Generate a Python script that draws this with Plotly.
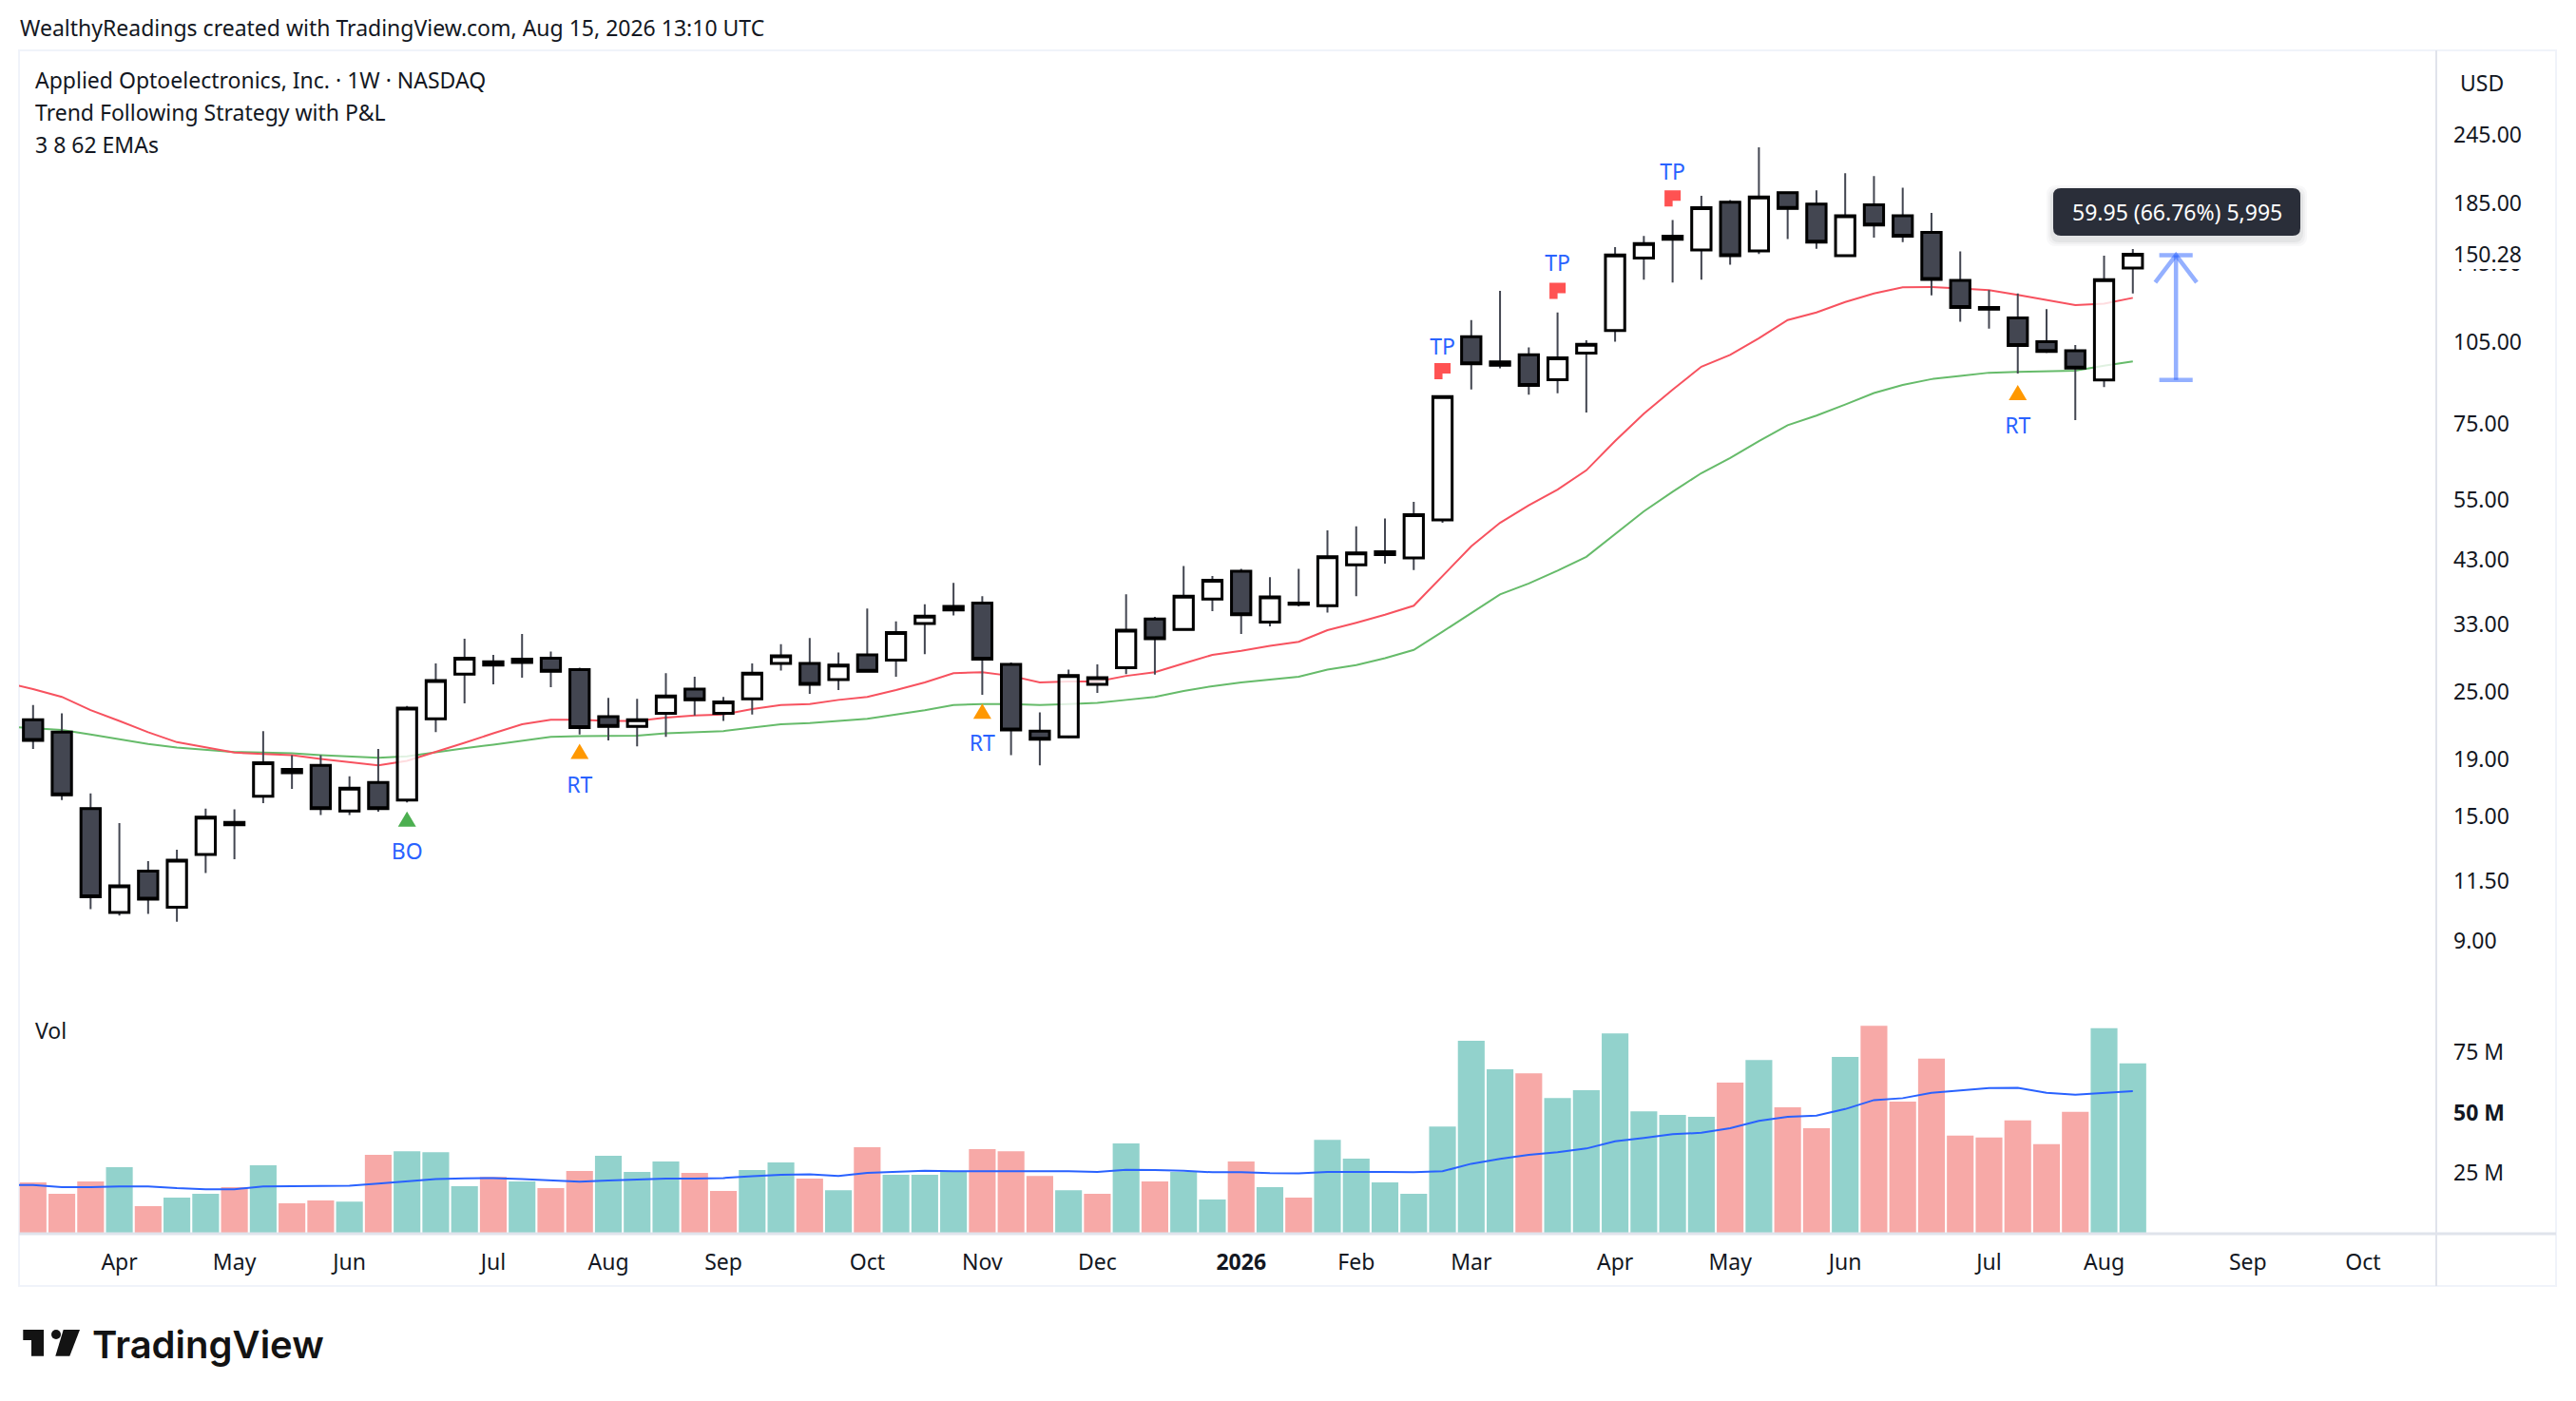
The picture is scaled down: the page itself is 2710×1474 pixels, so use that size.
import math
import plotly.graph_objects as go

W, H = 2710, 1474
FONT = "Noto Sans"
INK = "#131722"

# weekly bars, index 0 is the first bar on the chart
opens = [22.3, 21.2, 15.5, 10.13, 12.0, 10.35, 12.85, 14.65, 16.3, 18.2, 18.5, 15.35, 17.25, 16.05, 22.4, 26.9, 27.9, 28.6, 28.7, 27.4, 22.6, 21.7, 22.9, 25.3, 22.9, 24.3, 28.1, 28.1, 26.3, 29.1, 28.5, 33.1, 35.0, 36.0, 28.0, 21.3, 20.8, 25.8, 27.6, 33.7, 32.3, 36.6, 41.0, 33.3, 36.0, 35.6, 42.1, 43.9, 43.3, 50.6, 107.2, 95.4, 99.6, 89.9, 100.2, 110, 148, 161.8, 153, 186, 152.3, 193.5, 184.6, 149.4, 184, 176, 164.4, 135, 120.8, 115.8, 105, 101.2, 89.8, 142]
closes = [20.5, 16.4, 10.8, 11.3, 10.7, 12.55, 14.96, 14.5, 18.7, 17.95, 15.5, 16.85, 15.5, 23.4, 26.2, 28.7, 28.3, 28.2, 27.2, 21.6, 21.7, 22.3, 24.6, 24.2, 24.0, 27.0, 29.0, 25.8, 27.9, 27.2, 31.9, 34.1, 35.5, 28.6, 21.4, 20.6, 26.75, 26.5, 32.2, 31.1, 37.0, 39.5, 34.3, 36.9, 35.8, 43.5, 44.2, 44.4, 51.7, 83.9, 95.9, 96.7, 87.8, 98.3, 103.9, 149.8, 157, 159.8, 182, 149.4, 190, 181.3, 158, 176, 169.5, 161.8, 135.6, 120.8, 120, 103.4, 100.9, 94.3, 135.4, 150.28]
highs = [23.7, 22.9, 16.5, 14.6, 12.5, 13.1, 15.5, 15.45, 21.3, 19.3, 19.3, 17.7, 19.8, 23.6, 28.1, 31.1, 29.1, 31.7, 29.5, 27.6, 24.4, 24.3, 27.0, 26.6, 24.5, 28.1, 30.4, 31.2, 29.4, 35.2, 33.4, 35.8, 39.1, 37.0, 28.2, 23.0, 27.4, 28.0, 37.3, 34.0, 41.9, 40.2, 41.4, 40.0, 41.4, 48.5, 49.3, 50.9, 54.5, 84.3, 114.8, 129.4, 102.6, 118.4, 105.7, 154.7, 162, 173, 191, 187.7, 233, 194, 195.4, 209.4, 207, 197.4, 178, 152, 129.8, 128, 120, 103.6, 149.4, 153.5]
lows = [19.8, 16.05, 10.27, 10.0, 10.07, 9.75, 11.9, 12.6, 15.85, 16.8, 15.1, 15.1, 15.3, 15.9, 21.2, 23.85, 25.8, 26.5, 25.5, 21.0, 20.5, 20.0, 20.8, 22.7, 22.2, 22.8, 27.3, 24.8, 25.2, 27.1, 26.6, 29.2, 34.2, 24.7, 19.3, 18.5, 20.7, 24.9, 26.9, 26.85, 32.2, 34.8, 31.7, 32.7, 35.5, 34.6, 37.0, 42.3, 41.2, 50.0, 86.4, 94.2, 84.5, 85.0, 78.6, 105, 135.4, 133.8, 135.4, 144, 150.5, 160, 153.7, 149, 160.9, 158, 127, 114, 110.8, 92.2, 100.3, 76.2, 87.2, 128]

# EMAs start one bar before the first candle, the frame cuts them off
ema_fast = [26.0, 25.3, 24.5, 23.2, 22.2, 21.2, 20.35, 19.9, 19.5, 19.4, 19.3, 19.0, 18.75, 18.5, 18.85, 19.55, 20.3, 21.1, 21.9, 22.3, 22.3, 22.2, 22.2, 22.5, 22.7, 22.8, 23.3, 23.7, 23.8, 24.2, 24.5, 25.2, 26.0, 27.0, 27.1, 26.7, 26.0, 26.1, 26.1, 26.7, 27.1, 28.1, 29.1, 29.6, 30.2, 30.7, 32.2, 33.2, 34.3, 35.6, 40.2, 45.4, 50.0, 53.7, 57.3, 62.0, 69.9, 78.2, 86.3, 94.8, 99.5, 106.5, 114.8, 118.4, 123.6, 128, 131.3, 131.4, 130.6, 129.8, 127.2, 124.7, 122, 122.8, 125.7]
ema_slow = [21.7, 21.55, 21.4, 21.0, 20.6, 20.2, 19.9, 19.7, 19.55, 19.5, 19.45, 19.3, 19.2, 19.1, 19.2, 19.55, 19.85, 20.15, 20.5, 20.8, 20.85, 20.85, 20.9, 21.1, 21.2, 21.3, 21.6, 21.9, 22.0, 22.2, 22.4, 22.8, 23.2, 23.7, 23.8, 23.8, 23.7, 23.8, 23.9, 24.2, 24.5, 25.1, 25.6, 26.0, 26.3, 26.6, 27.4, 27.9, 28.7, 29.7, 32.0, 34.6, 37.3, 39.0, 41.1, 43.5, 47.8, 52.4, 56.8, 61.3, 65.2, 69.9, 74.6, 77.6, 81.2, 85.1, 88.0, 90.1, 91.3, 92.5, 92.8, 93.1, 93.3, 95.2, 96.9]

volumes = [21.2, 16.5, 21.6, 27.5, 11.4, 14.9, 16.5, 19.2, 28.3, 12.6, 13.7, 13.3, 32.6, 34.1, 33.7, 19.6, 23.5, 21.6, 18.8, 25.9, 32.2, 25.5, 29.8, 25.1, 17.7, 26.3, 29.4, 22.8, 18.0, 35.7, 24.3, 24.3, 25.5, 34.9, 34.1, 23.9, 18.0, 16.5, 37.3, 21.6, 25.5, 14.1, 29.8, 19.2, 14.9, 38.8, 31.0, 21.2, 16.5, 44.3, 79.7, 67.9, 66.3, 56.1, 59.3, 82.8, 50.6, 49.1, 48.3, 62.4, 71.8, 52.2, 43.6, 73.0, 85.9, 54.6, 72.3, 40.5, 39.8, 46.8, 37.0, 50.4, 84.9, 70.4]
vol_dirs = ["d", "d", "d", "u", "d", "u", "u", "d", "u", "d", "d", "u", "d", "u", "u", "u", "d", "u", "d", "d", "u", "u", "u", "d", "d", "u", "u", "d", "u", "d", "u", "u", "u", "d", "d", "d", "u", "d", "u", "d", "u", "u", "d", "u", "d", "u", "u", "u", "u", "u", "u", "u", "d", "u", "u", "u", "u", "u", "u", "d", "u", "d", "d", "u", "d", "d", "d", "d", "d", "d", "d", "d", "u", "u"]
vol_ma = [20.2, 20.1, 19.2, 19.2, 19.5, 19.5, 18.8, 18.4, 18.4, 19.5, 19.6, 19.6, 19.8, 20.7, 21.6, 22.6, 22.9, 23.0, 22.6, 22.0, 21.5, 22.0, 22.4, 22.8, 22.8, 23.0, 23.8, 24.3, 24.5, 23.9, 25.1, 25.5, 26.0, 25.8, 25.8, 25.9, 26.0, 25.8, 25.5, 26.4, 26.3, 26.0, 25.4, 25.4, 25.0, 24.9, 25.5, 25.6, 25.5, 25.4, 25.8, 28.9, 30.9, 32.6, 33.7, 35.2, 38.2, 39.6, 41.1, 41.7, 43.6, 46.6, 48.3, 48.8, 51.5, 55.2, 56.0, 58.2, 59.1, 60.2, 60.3, 58.2, 57.4, 58.2, 58.9]

# strategy signals: bar index, marker price, label price
triangle_bars = [13, 19, 33, 69]
triangle_prices = [14.85, 19.6, 23.1, 85.3]
triangle_colors = ["#4caf50", "#ff9800", "#ff9800", "#ff9800"]
signal_bars = [13, 19, 33, 69, 49, 53, 57]
signal_labels = ["BO", "RT", "RT", "RT", "TP", "TP", "TP"]
signal_prices = [12.9, 16.95, 20.1, 73.7, 102.0, 143.4, 208.4]
flag_bars = [49, 53, 57]
flag_prices = [93.1, 129.4, 189.0]

# long position drawing
arrow_bar = 74.5
arrow_low, arrow_high = 89.8, 149.75
arrow_head = 142.5

date_ticks = [3, 7, 11, 16, 20, 24, 29, 33, 37, 42, 46, 50, 55, 59, 63, 68, 72, 77, 81]
date_labels = ["Apr", "May", "Jun", "Jul", "Aug", "Sep", "Oct", "Nov", "Dec", "<b>2026</b>", "Feb", "Mar", "Apr", "May", "Jun", "Jul", "Aug", "Sep", "Oct"]
price_ticks = [245, 185, 145, 105, 75, 55, 43, 33, 25, 19, 15, 11.5, 9]
vol_ticks = [25, 50, 75]
vol_labels = ["25 M", "<b>50 M</b>", "75 M"]

FRAME_L, FRAME_R, FRAME_T, FRAME_B = 20, 2689, 53, 1353
AXIS_X, PANE_Y, BASE_Y = 2563, 1053, 1298
BAR0_X, BAR_STEP = 34.8, 30.26


def px(x):
    return x / W


def py(y):
    return 1 - y / H


def rounded(x0, y0, x1, y1, r):
    return (f"M{px(x0 + r)},{py(y0)} L{px(x1 - r)},{py(y0)} Q{px(x1)},{py(y0)} {px(x1)},{py(y0 + r)} "
            f"L{px(x1)},{py(y1 - r)} Q{px(x1)},{py(y1)} {px(x1 - r)},{py(y1)} "
            f"L{px(x0 + r)},{py(y1)} Q{px(x0)},{py(y1)} {px(x0)},{py(y1 - r)} "
            f"L{px(x0)},{py(y0 + r)} Q{px(x0)},{py(y0)} {px(x0 + r)},{py(y0)} Z")


def poly(points):
    return "M" + " L".join(f"{px(x)},{py(y)}" for x, y in points) + " Z"


def text(x, y, s, size=23, color=INK, anchor="left", family=FONT, weight=None):
    return dict(x=px(x), y=py(y), xref="paper", yref="paper", text=s, showarrow=False,
                xanchor=anchor, yanchor="middle", borderpad=0,
                font=dict(family=family, size=size, color=color, weight=weight))


def glyph(bar, price, path, color):
    # fixed pixel size, placed by the chart's own axes
    return dict(type="path", xref="x", yref="y3", xsizemode="pixel", ysizemode="pixel",
                xanchor=bar, yanchor=price, path=path, fillcolor=color, line=dict(width=0))


bars = list(range(len(opens)))
ema_bars = list(range(-1, len(opens)))
body_high = [max(o, c) for o, c in zip(opens, closes)]
body_low = [min(o, c) for o, c in zip(opens, closes)]

fig = go.Figure()

# lines sit on the base axis so the candles on the overlay cover them
fig.add_trace(go.Scatter(x=ema_bars, y=ema_slow, mode="lines", line=dict(color="#66bb6a", width=2), yaxis="y"))
fig.add_trace(go.Scatter(x=ema_bars, y=ema_fast, mode="lines", line=dict(color="#f7525f", width=2), yaxis="y"))

# wicks
fig.add_trace(go.Candlestick(
    x=bars, open=opens, high=highs, low=lows, close=closes, yaxis="y3", whiskerwidth=0,
    increasing=dict(line=dict(color="#434651", width=2), fillcolor="rgba(0,0,0,0)"),
    decreasing=dict(line=dict(color="#434651", width=2), fillcolor="rgba(0,0,0,0)"),
))
# bodies with the black outline
fig.add_trace(go.Candlestick(
    x=bars, open=opens, high=body_high, low=body_low, close=closes, yaxis="y3", whiskerwidth=0,
    increasing=dict(line=dict(color="#000000", width=3), fillcolor="rgba(255,255,255,0.8)"),
    decreasing=dict(line=dict(color="#000000", width=3), fillcolor="#434651"),
))

fig.add_trace(go.Scatter(
    x=signal_bars, y=signal_prices, text=signal_labels, mode="text", yaxis="y3",
    textposition="middle center", textfont=dict(family=FONT, size=23, color="#2962ff"),
))

# arrow of the long position tool
cap = 0.58
head = 0.72
fig.add_trace(go.Scatter(
    x=[arrow_bar - cap, arrow_bar + cap, None, arrow_bar, arrow_bar, None,
       arrow_bar - head, arrow_bar, arrow_bar + head, None, arrow_bar - cap, arrow_bar + cap],
    y=[arrow_low, arrow_low, None, arrow_low, arrow_high, None,
       arrow_head * 0.94, arrow_high, arrow_head * 0.94, None, arrow_high, arrow_high],
    mode="lines", yaxis="y3", line=dict(color="rgba(41,98,255,0.5)", width=4.5),
))

fig.add_trace(go.Bar(
    x=bars, y=volumes, yaxis="y2", marker_line_width=0,
    marker_color=["#92d2cc" if d == "u" else "#f7a9a7" for d in vol_dirs],
))
fig.add_trace(go.Scatter(x=ema_bars, y=vol_ma, mode="lines", yaxis="y2", line=dict(color="#2962ff", width=2)))

price_range = [math.log10(7.05), math.log10(346.6)]
pane_domain = [py(PANE_Y), py(FRAME_T)]

shapes = []
grey = "#f0f3fa"
line = "#e0e3eb"
# outer frame and panel separators
shapes.append(dict(type="rect", xref="paper", yref="paper", x0=px(FRAME_L), x1=px(FRAME_R), y0=py(FRAME_B), y1=py(FRAME_T),
                   line=dict(color=grey, width=2), layer="below"))
shapes.append(dict(type="line", xref="paper", yref="paper", x0=px(AXIS_X), x1=px(AXIS_X), y0=py(FRAME_B), y1=py(FRAME_T),
                   line=dict(color=line, width=2)))
shapes.append(dict(type="line", xref="paper", yref="paper", x0=px(FRAME_L), x1=px(FRAME_R), y0=py(BASE_Y), y1=py(BASE_Y),
                   line=dict(color=line, width=3)))
# the 150.28 label hides most of the 145.00 tick
shapes.append(dict(type="rect", xref="paper", yref="paper", x0=px(AXIS_X + 3), x1=px(FRAME_R - 3), y0=py(283), y1=py(250),
                   fillcolor="white", line=dict(width=0)))
# tooltip shadow and box
for grow, alpha in [(7, 0.03), (5, 0.04), (3, 0.06)]:
    shapes.append(dict(type="path", xref="paper", yref="paper", path=rounded(2160 - grow, 198 - grow + 4, 2420 + grow, 248 + grow + 4, 10),
                       fillcolor=f"rgba(42,46,57,{alpha})", line=dict(width=0)))
shapes.append(dict(type="path", xref="paper", yref="paper", path=rounded(2160, 198, 2420, 248, 8), fillcolor="#2a2e39", line=dict(width=0)))
# TradingView mark
shapes.append(dict(type="path", xref="paper", yref="paper",
                   path=poly([(24.3, 1399), (46, 1399), (46, 1426.7), (33, 1426.7), (33, 1410), (24.3, 1410)]),
                   fillcolor="#131313", line=dict(width=0)))
shapes.append(dict(type="circle", xref="paper", yref="paper", x0=px(54), x1=px(64), y0=py(1409), y1=py(1399),
                   fillcolor="#131313", line=dict(width=0)))
shapes.append(dict(type="path", xref="paper", yref="paper",
                   path=poly([(66.7, 1399), (84, 1399), (73.3, 1426.7), (58.3, 1426.7)]),
                   fillcolor="#131313", line=dict(width=0)))
# signal triangles and take profit flags
for b, p, c in zip(triangle_bars, triangle_prices, triangle_colors):
    shapes.append(glyph(b, p, "M-9.5,-8 L9.5,-8 L0,8 Z", c))
for b, p in zip(flag_bars, flag_prices):
    shapes.append(glyph(b, p, "M-8.5,-8.5 L-8.5,8.5 L8.5,8.5 L8.5,-2.5 L0,-2.5 L0,-8.5 Z", "#ff5252"))

annotations = [
    text(20, 29, "WealthyReadings created with TradingView.com, Aug 15, 2026 13:10 UTC"),
    text(36, 84, "Applied Optoelectronics, Inc. · 1W · NASDAQ"),
    text(36, 118, "Trend Following Strategy with P&amp;L"),
    text(36, 152, "3 8 62 EMAs"),
    text(36, 1084, "Vol"),
    text(2290, 223, "59.95 (66.76%) 5,995", color="#ffffff", anchor="center"),
    text(2580, 267, "150.28"),
    text(2587, 87, "USD"),
    text(96, 1414, "TradingView", size=40, color="#131313", family="Inter", weight=600),
]

fig.update_layout(
    width=W, height=H, margin=dict(l=0, r=0, t=0, b=0), paper_bgcolor="white", plot_bgcolor="white",
    showlegend=False, bargap=0.07, boxgap=0.33, boxgroupgap=0, boxmode="overlay", hovermode=False,
    font=dict(family=FONT, size=23, color=INK),
    xaxis=dict(domain=[px(FRAME_L), px(AXIS_X)], range=[(FRAME_L - BAR0_X) / BAR_STEP, (AXIS_X - BAR0_X) / BAR_STEP],
               anchor="y2", tickmode="array", tickvals=date_ticks, ticktext=date_labels, showgrid=False,
               zeroline=False, showline=False, ticks="", ticklabelstandoff=14, rangeslider=dict(visible=False)),
    yaxis=dict(domain=pane_domain, type="log", range=price_range, side="right", anchor="x", tickmode="array",
               tickvals=price_ticks, ticktext=[f"{v:.2f}" for v in price_ticks], showgrid=False, zeroline=False,
               showline=False, ticks="", ticklabelstandoff=17),
    yaxis2=dict(domain=[py(BASE_Y), py(PANE_Y)], range=[0, 96.2], side="right", anchor="x", tickmode="array",
                tickvals=vol_ticks, ticktext=vol_labels, showgrid=False, zeroline=False, showline=False, ticks="",
                ticklabelstandoff=17),
    yaxis3=dict(type="log", range=price_range, overlaying="y", side="right", anchor="x", visible=False),
    shapes=shapes, annotations=annotations,
)

fig.write_html("out.html", config=dict(displayModeBar=False),
               post_script="document.body.style.margin='0';document.body.style.overflow='hidden';")
